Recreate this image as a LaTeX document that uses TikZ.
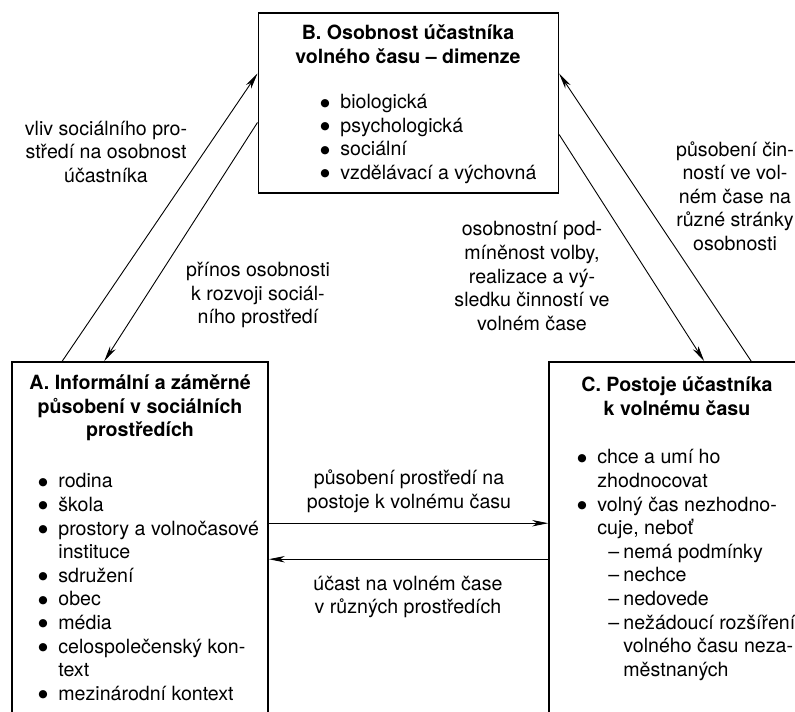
\documentclass[tikz,border=0pt]{standalone}
\usepackage{fontspec}
\setmainfont{TeX Gyre Heros}
\newfontfamily\dotfont{DejaVu Sans}
\usetikzlibrary{arrows.meta, calc}

\newcommand{\blt}{\makebox[10pt][l]{\raisebox{1.3pt}{\dotfont\fontsize{5.4}{5.4}\selectfont ●}}}
\newcommand{\gap}{\hspace*{10pt}}
\newcommand{\dsh}{\hspace*{15.5pt}\makebox[7.5pt][l]{–}}
\newcommand{\dgap}{\hspace*{23pt}}

\begin{document}
\begin{tikzpicture}[
        x=0.5pt, y=-0.5pt,
        box/.style={rectangle, draw, line width=0.8pt, inner sep=0pt},
        heading/.style={font=\fontsize{9.8}{11.8}\selectfont\bfseries, align=center, inner sep=0pt},
        note/.style={font=\fontsize{9.8}{11.8}\selectfont, align=center, inner sep=0pt},
        list/.style={font=\fontsize{9.8}{11.8}\selectfont, align=left, anchor=west, inner sep=0pt},
        link/.style={line width=0.45pt, -{Stealth[length=8pt, width=3.2pt, inset=2.4pt]}}
    ]
    \useasboundingbox (0,0) rectangle (795,711);
    \clip (0,0) rectangle (795,711);

    % Boxes (A and C run past the lower edge)
    \node[box, minimum width=150pt, minimum height=89.7pt] (boxB) at (408.3, 103) {};
    \node[box, minimum width=128pt, minimum height=190pt] (boxA) at (140, 552) {};
    \node[box, minimum width=136pt, minimum height=190pt] (boxC) at (685, 552) {};

    % B: personality of the participant
    \node[heading] (titleB) at (408, 44) {B. Osobnost účastníka\\volného času – dimenze};
    \node[list] (listB) at (320, 139) {\blt biologická\\\blt psychologická\\\blt sociální\\\blt vzdělávací a výchovná};

    % A: social environments
    \node[heading] (titleA) at (140, 408) {A. Informální a záměrné\\působení v sociálních\\prostředích};
    \node[list] (listA) at (38, 587) {\blt rodina\\\blt škola\\\blt prostory a volnočasové\\\gap instituce\\\blt sdružení\\\blt obec\\\blt média\\\blt celospolečenský kon-\\\gap text\\\blt mezinárodní kontext};

    % C: attitudes to free time
    \node[heading] (titleC) at (677, 396) {C. Postoje účastníka\\k volnému času};
    \node[list] (listC) at (577, 565) {\blt chce a umí ho\\\gap zhodnocovat\\\blt volný čas nezhodno-\\\gap cuje, neboť\\\dsh nemá podmínky\\\dsh nechce\\\dsh nedovede\\\dsh nežádoucí rozšíření\\\dgap volného času neza-\\\dgap městnaných};

    % Edge labels
    \node[note] (vliv) at (106, 152) {vliv sociálního pro-\\středí na osobnost\\účastníka};
    \node[note] (prinos) at (258, 295) {přínos osobnosti\\k rozvoji sociál-\\ního prostředí};
    \node[note] (podminenost) at (532, 276) {osobnostní pod-\\míněnost volby,\\realizace a vý-\\sledku činností ve\\volném čase};
    \node[note] (pusobeni) at (735, 196) {působení čin-\\ností ve vol-\\ném čase na\\různé stránky\\osobnosti};
    \node[note] (postoje) at (409, 491) {působení prostředí na\\postoje k volnému času};
    \node[note] (ucast) at (408, 597) {účast na volném čase\\v různých prostředích};

    % --- Edges ---
    \coordinate (A_toB) at ($(boxA.north west)+(51,0)$);
    \coordinate (B_fromA) at ($(boxB.north west)+(0,61)$);
    \coordinate (B_toA) at ($(boxB.north west)+(0,110)$);
    \coordinate (A_fromB) at ($(boxA.north west)+(93,0)$);
    \coordinate (B_toC) at ($(boxB.north east)+(0,122)$);
    \coordinate (C_fromB) at ($(boxC.north west)+(156,0)$);
    \coordinate (C_toB) at ($(boxC.north west)+(203,0)$);
    \coordinate (B_fromC) at ($(boxB.north east)+(0,61)$);
    \coordinate (A_toC) at ($(boxA.north east)+(0,162)$);
    \coordinate (C_fromA) at ($(boxC.north west)+(0,162)$);
    \coordinate (C_toA) at ($(boxC.north west)+(0,198)$);
    \coordinate (A_fromC) at ($(boxA.north east)+(0,198)$);

    \draw[link] (A_toB) -- (B_fromA);
    \draw[link] (B_toA) -- (A_fromB);
    \draw[link] (B_toC) -- (C_fromB);
    \draw[link] (C_toB) -- (B_fromC);
    \draw[link] (A_toC) -- (C_fromA);
    \draw[link] (C_toA) -- (A_fromC);

\end{tikzpicture}
\end{document}
